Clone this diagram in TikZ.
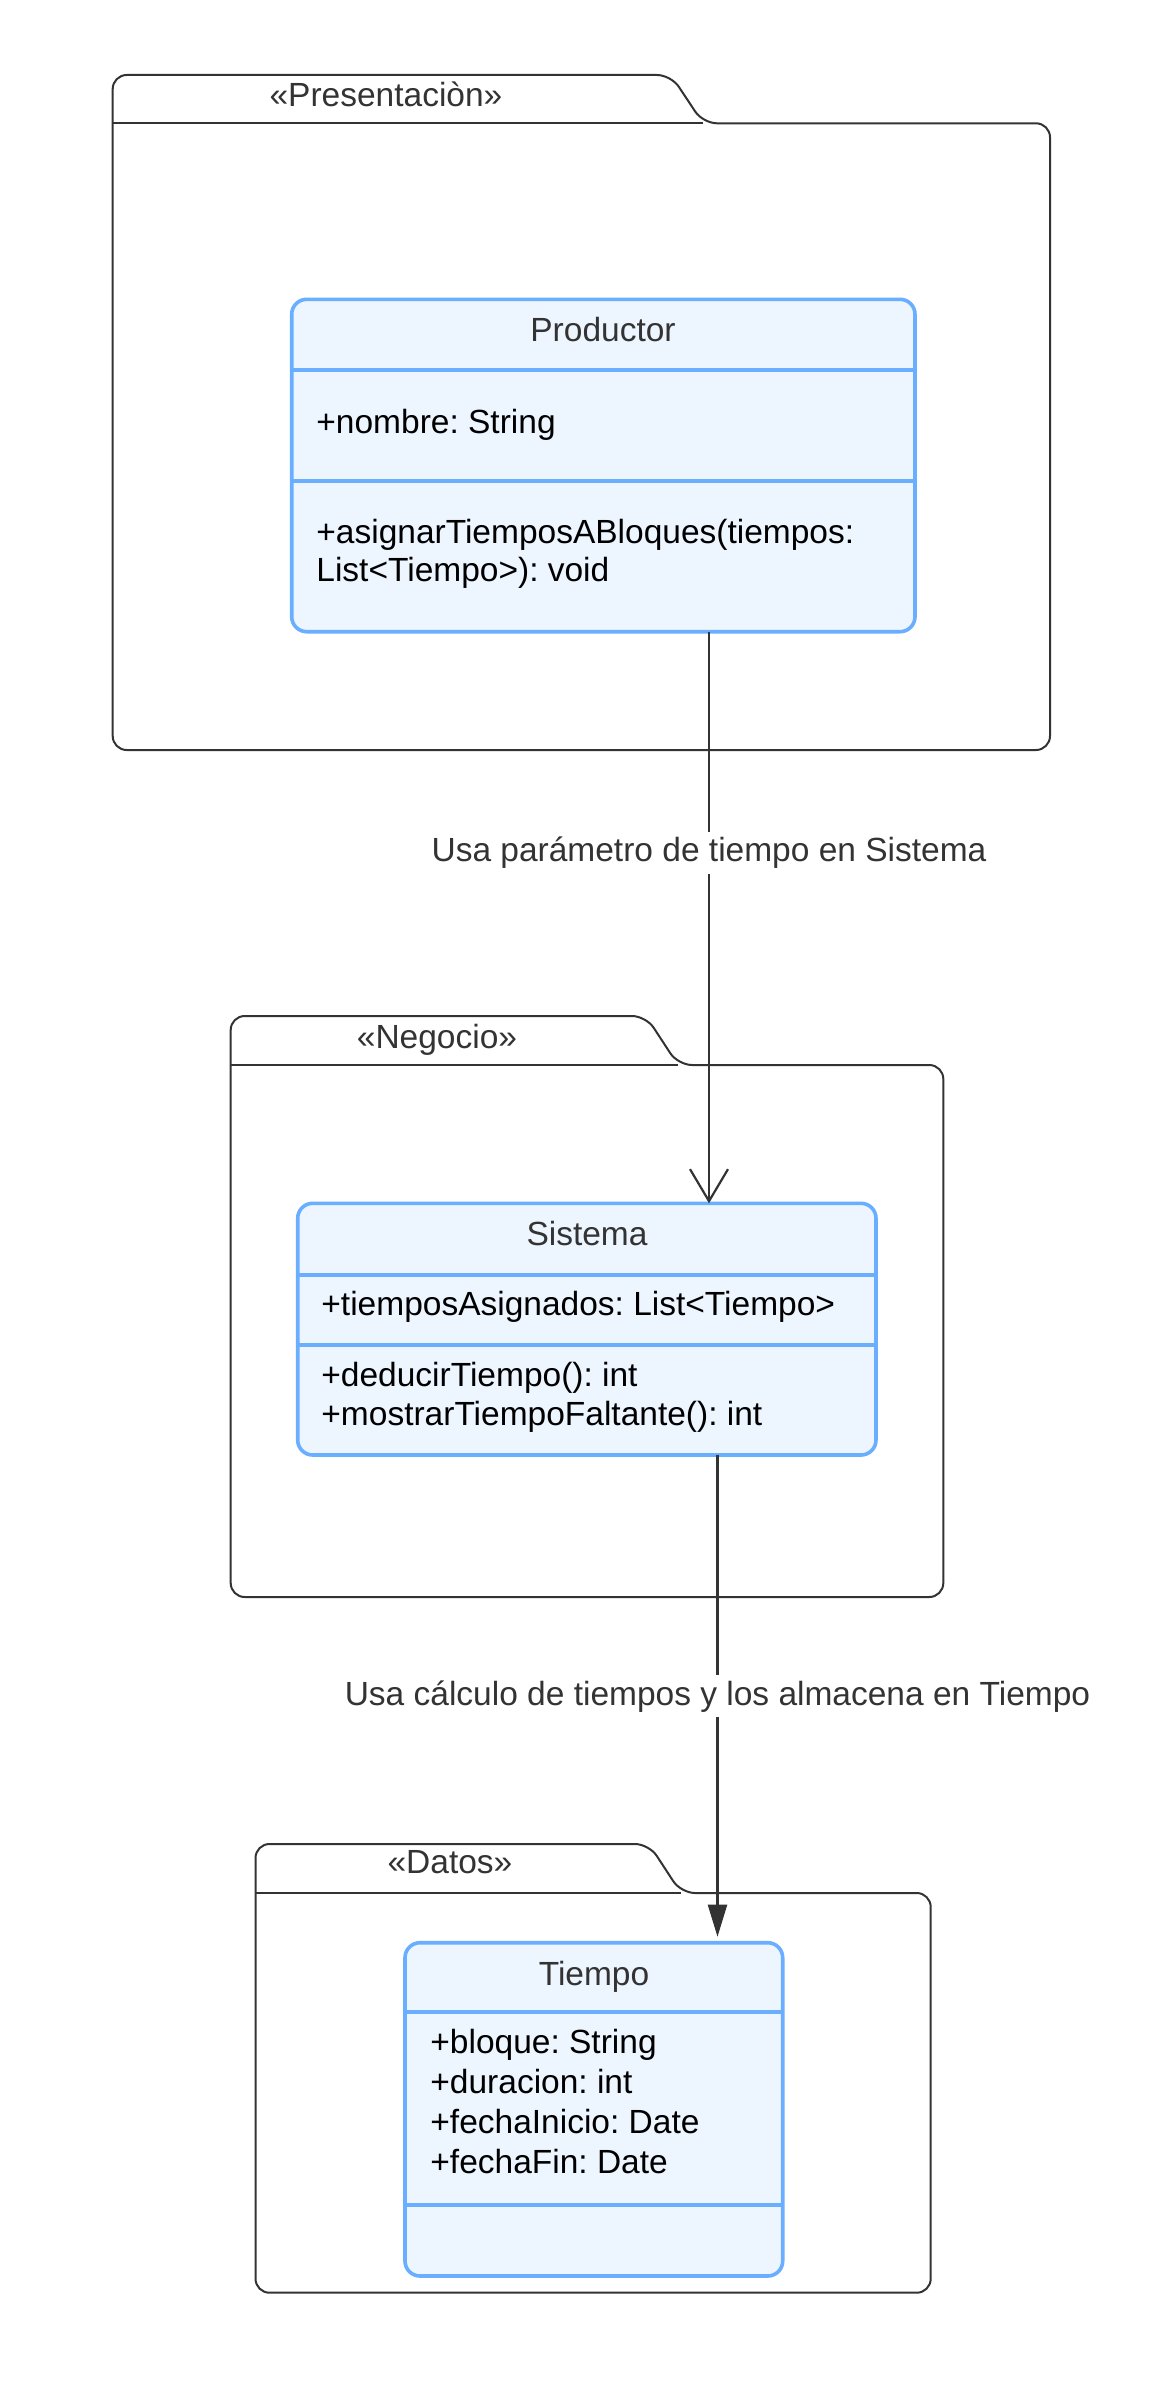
\documentclass[tikz,border=0pt]{standalone}
\usepackage{fontspec}
\setmainfont{Liberation Sans}
\usepackage{xcolor}
\usepackage{tikz}
\usetikzlibrary{arrows.meta,positioning}
\definecolor{ink}{HTML}{333333}
\definecolor{umlblue}{HTML}{6AAEFF}
\definecolor{umlfill}{HTML}{EDF5FF}
\newcommand{\umlfont}{\fontsize{16.75}{20}\selectfont}
\frenchspacing

\begin{document}
\begin{tikzpicture}[
    x=0.5pt, y=-0.5pt,
    pkg/.style={draw=ink, line width=1pt, rounded corners=7pt},
    pkgtitle/.style={anchor=base, text=ink, font=\umlfont},
    classbox/.style={rectangle, draw=umlblue, fill=umlfill, line width=1.8pt, rounded corners=7.5pt, anchor=north west, inner sep=0pt, outer sep=0pt},
    sep/.style={draw=umlblue, line width=1.8pt},
    ctitle/.style={anchor=base, text=ink, font=\umlfont},
    member/.style={anchor=base west, text=black, inner sep=0pt, font=\umlfont},
    link/.style={draw=ink, line width=1.1pt},
    linklabel/.style={anchor=base, fill=white, text=ink, inner sep=2.5pt, font=\umlfont}
]
    \useasboundingbox (0,0) rectangle (1163,2381);

    % Packages
    \draw[pkg] (112.7,123.3) -- (112.7,75) -- (671,75) -- (703,123.3) -- (1050,123.3) -- (1050,750) -- (112.7,750) -- (112.7,123.3);
    \draw[pkg] (112.7,123.3) -- (703,123.3);
    \node[pkgtitle] (pres) at (386,106.7) {«Presentaciòn»};

    \draw[pkg] (230.7,1065) -- (230.7,1016) -- (646,1016) -- (678,1065) -- (943.3,1065) -- (943.3,1597) -- (230.7,1597) -- (230.7,1065);
    \draw[pkg] (230.7,1065) -- (678,1065);
    \node[pkgtitle] (neg) at (437,1048.3) {«Negocio»};

    \draw[pkg] (255.5,1893) -- (255.5,1844) -- (649,1844) -- (681,1893) -- (930.7,1893) -- (930.7,2292.7) -- (255.5,2292.7) -- (255.5,1893);
    \draw[pkg] (255.5,1893) -- (681,1893);
    \node[pkgtitle] (datos) at (450,1873) {«Datos»};

    % Classes
    \node[classbox, minimum width=311.65pt, minimum height=166.2pt] (productor) at (291.7,299.3) {};
    \draw[sep] (productor.west |- 0,370) -- (productor.east |- 0,370);
    \draw[sep] (productor.west |- 0,481) -- (productor.east |- 0,481);
    \node[ctitle] (productor-name) at (603,341.7) {Productor};
    \node[member] (productor-attr) at (316,433.3) {+nombre: String};
    \node[member] (productor-op1) at (316,543.3) {+asignarTiemposABloques(tiempos:};
    \node[member] (productor-op2) at (316,581.7) {List<Tiempo>): void};

    \node[classbox, minimum width=289.15pt, minimum height=125.85pt] (sistema) at (297.7,1203.3) {};
    \draw[sep] (sistema.west |- 0,1275) -- (sistema.east |- 0,1275);
    \draw[sep] (sistema.west |- 0,1345) -- (sistema.east |- 0,1345);
    \node[ctitle] (sistema-name) at (587,1245) {Sistema};
    \node[member] (sistema-attr) at (321,1315) {+tiemposAsignados: List<Tiempo>};
    \node[member] (sistema-op1) at (321,1386.7) {+deducirTiempo(): int};
    \node[member] (sistema-op2) at (321,1425) {+mostrarTiempoFaltante(): int};

    \node[classbox, minimum width=188.85pt, minimum height=166.65pt] (tiempo) at (405,1942.7) {};
    \draw[sep] (tiempo.west |- 0,2012) -- (tiempo.east |- 0,2012);
    \draw[sep] (tiempo.west |- 0,2205) -- (tiempo.east |- 0,2205);
    \node[ctitle] (tiempo-name) at (594,1985) {Tiempo};
    \node[member] (tiempo-attr1) at (430,2053.3) {+bloque: String};
    \node[member] (tiempo-attr2) at (430,2093.3) {+duracion: int};
    \node[member] (tiempo-attr3) at (430,2133.3) {+fechaInicio: Date};
    \node[member] (tiempo-attr4) at (430,2173.3) {+fechaFin: Date};

    % Links
    \coordinate (link1x) at (709,0);
    \coordinate (link2x) at (717.5,0);
    \draw[link, -{Straight Barb[length=16pt, width=19pt]}] (productor.south -| link1x) -- (sistema.north -| link1x);
    \node[linklabel] (link1-label) at (709,861.7) {Usa parámetro de tiempo en Sistema};

    \draw[link, -{Triangle[length=16pt, width=9.5pt]}, shorten >=3pt] (sistema.south -| link2x) -- (tiempo.north -| link2x);
    \node[linklabel] (link2-label) at (717.5,1705) {Usa cálculo de tiempos y los almacena en Tiempo};
\end{tikzpicture}
\end{document}
